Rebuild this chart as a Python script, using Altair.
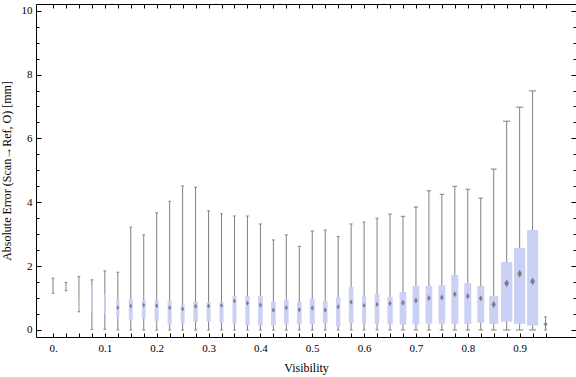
import altair as alt
import pandas as pd

visibility = [0.0, 0.025, 0.05, 0.075, 0.1, 0.125, 0.15, 0.175, 0.2, 0.225,
              0.25, 0.275, 0.3, 0.325, 0.35, 0.375, 0.4, 0.425, 0.45, 0.475,
              0.5, 0.525, 0.55, 0.575, 0.6, 0.625, 0.65, 0.675, 0.7, 0.725,
              0.75, 0.775, 0.8, 0.825, 0.85, 0.875, 0.9, 0.925, 0.95]
whisker_hi = [1.62, 1.49, 1.67, 1.57, 1.85, 1.81, 3.22, 2.98, 3.67, 4.03,
              4.51, 4.47, 3.73, 3.64, 3.57, 3.57, 3.32, 2.82, 2.98, 2.62,
              3.10, 3.13, 2.93, 3.32, 3.38, 3.50, 3.63, 3.56, 3.85, 4.36,
              4.25, 4.50, 4.41, 4.13, 5.04, 6.54, 6.98, 7.49, 0.41]
q3 = [1.40, 1.37, 1.01, 1.40, 1.10, 0.96, 0.97, 0.93, 0.94, 0.90,
      0.78, 0.88, 0.87, 0.87, 1.07, 1.07, 1.07, 0.88, 0.94, 0.88,
      0.97, 0.91, 1.03, 1.34, 1.07, 1.13, 1.03, 1.19, 1.38, 1.38,
      1.41, 1.72, 1.47, 1.38, 1.07, 2.13, 2.57, 3.13, 0.22]
median = [1.40, 1.37, 0.80, 0.95, 0.80, 0.70, 0.75, 0.78, 0.76, 0.70,
          0.66, 0.74, 0.75, 0.77, 0.91, 0.84, 0.78, 0.62, 0.70, 0.63,
          0.69, 0.62, 0.73, 0.87, 0.77, 0.80, 0.83, 0.85, 0.92, 1.00,
          1.02, 1.12, 1.06, 0.99, 0.80, 1.46, 1.76, 1.52, 0.18]
q1 = [1.40, 1.37, 0.57, 0.58, 0.52, 0.42, 0.33, 0.35, 0.28, 0.16,
      0.20, 0.26, 0.26, 0.23, 0.20, 0.15, 0.15, 0.14, 0.19, 0.18,
      0.18, 0.21, 0.10, 0.21, 0.19, 0.19, 0.17, 0.17, 0.17, 0.20,
      0.20, 0.19, 0.19, 0.23, 0.19, 0.26, 0.19, 0.14, 0.14]
whisker_lo = [1.15, 1.23, 0.57, 0.02, 0.02, 0.0, 0.0, 0.0, 0.0, 0.0,
              0.0, 0.0, 0.0, 0.0, 0.0, 0.0, 0.0, 0.0, 0.0, 0.0,
              0.0, 0.0, 0.0, 0.0, 0.0, 0.0, 0.0, 0.0, 0.0, 0.0,
              0.0, 0.0, 0.0, 0.0, 0.0, 0.0, 0.0, 0.0, 0.0]
# relative box width (share of the bin spacing), as drawn in the source
rel_width = [0.08, 0.08, 0.08, 0.10, 0.12, 0.25, 0.31, 0.29, 0.31, 0.31,
             0.31, 0.35, 0.31, 0.31, 0.31, 0.33, 0.36, 0.36, 0.36, 0.36,
             0.39, 0.36, 0.33, 0.36, 0.31, 0.36, 0.41, 0.52, 0.52, 0.52,
             0.52, 0.54, 0.54, 0.54, 0.70, 0.87, 0.87, 0.85, 0.33]

y_major = [0, 2, 4, 6, 8, 10]
y_minor = [0.5, 1, 1.5, 2.5, 3, 3.5, 4.5, 5, 5.5, 6.5, 7, 7.5, 8.5, 9, 9.5]

df = pd.DataFrame({
    "vis": visibility, "whi": whisker_hi, "q3": q3, "med": median,
    "q1": q1, "wlo": whisker_lo, "rel": rel_width,
})

SPACING = 0.025
FONT = "Liberation Serif"
xs = alt.Scale(domain=[-0.0328, 1.0087], nice=False, zero=False)
ys = alt.Scale(domain=[-0.22, 10.21], nice=False, zero=False)

label_expr = ("round(datum.value*40) % 4 == 0 ? (datum.value == 0 ? '0.' : "
              "format(datum.value, '.1f')) : ''")

x_bottom = alt.Axis(values=visibility, labelExpr=label_expr, tickSize=4, offset=-4,
                    domain=False, grid=False, labelOverlap=False, labelFlush=False,
                    labelPadding=5, title="Visibility", titlePadding=9,
                    orient="bottom")
x_top = alt.Axis(values=visibility, labels=False, tickSize=4, offset=-4,
                 domain=False, grid=False, title=None, orient="top")
y_left = alt.Axis(values=y_major, tickSize=5, offset=-5, domain=False, grid=False,
                  labelPadding=4, title="Absolute Error (Scan\u2192Ref, O) [mm]",
                  titlePadding=8, orient="left")
y_left_minor = alt.Axis(values=y_minor, tickSize=3, offset=-3, domain=False,
                        grid=False, labels=False, title=None, orient="left")
y_right = alt.Axis(values=y_major, tickSize=5, offset=-5, domain=False, grid=False,
                   labels=False, title=None, orient="right")
y_right_minor = alt.Axis(values=y_minor, tickSize=3, offset=-3, domain=False,
                         grid=False, labels=False, title=None, orient="right")

base = alt.Chart(df).transform_calculate(
    xl=f"datum.vis - datum.rel*{SPACING}/2",
    xr=f"datum.vis + datum.rel*{SPACING}/2",
    cl=f"datum.vis - max(0.65*datum.rel, 0.21)*{SPACING}/2",
    cr=f"datum.vis + max(0.65*datum.rel, 0.21)*{SPACING}/2",
    msize="datum.rel >= 0.2 ? pow(0.42*datum.rel*12.95 + 3.2, 2) : 0",
)

whiskers = base.mark_rule(color="#808080", strokeWidth=1).encode(
    x=alt.X("vis:Q", scale=xs, axis=x_bottom),
    y=alt.Y("wlo:Q", scale=ys, axis=y_left),
    y2="whi:Q",
)

boxes = base.mark_rect(color="#cbd1f4").encode(
    x=alt.X("xl:Q", scale=xs, axis=x_top),
    x2="xr:Q",
    y=alt.Y("q1:Q", scale=ys, axis=y_left_minor),
    y2="q3:Q",
)

caps = base.transform_fold(["wlo", "whi"], as_=["end", "val"]).mark_rule(
    color="#808080", strokeWidth=1
).encode(
    x=alt.X("cl:Q", scale=xs, axis=None),
    x2="cr:Q",
    y=alt.Y("val:Q", scale=ys, axis=y_right),
)

medians = base.mark_point(
    shape="M0,-1L0.6,0L0,1L-0.6,0Z", filled=True, color="#707070", opacity=0.85,
    strokeWidth=0,
).encode(
    x=alt.X("vis:Q", scale=xs, axis=None),
    y=alt.Y("med:Q", scale=ys, axis=y_right_minor),
    size=alt.Size("msize:Q", scale=None, legend=None),
)

chart = alt.layer(whiskers, boxes, caps, medians).resolve_axis(
    x="independent", y="independent"
).properties(
    width=540, height=333,
    autosize=alt.AutoSizeParams(type="none"),
    padding={"left": 36, "top": 4, "right": 0, "bottom": 40},
).configure_view(
    stroke="#000000", strokeWidth=1
).configure_axis(
    tickColor="#000000", labelColor="#000000", titleColor="#000000",
    labelFont=FONT, titleFont=FONT, labelFontSize=11, titleFontSize=12,
    titleFontWeight="normal", tickWidth=1,
)

chart.save("out.html", embed_options={"renderer": "svg", "actions": False})
